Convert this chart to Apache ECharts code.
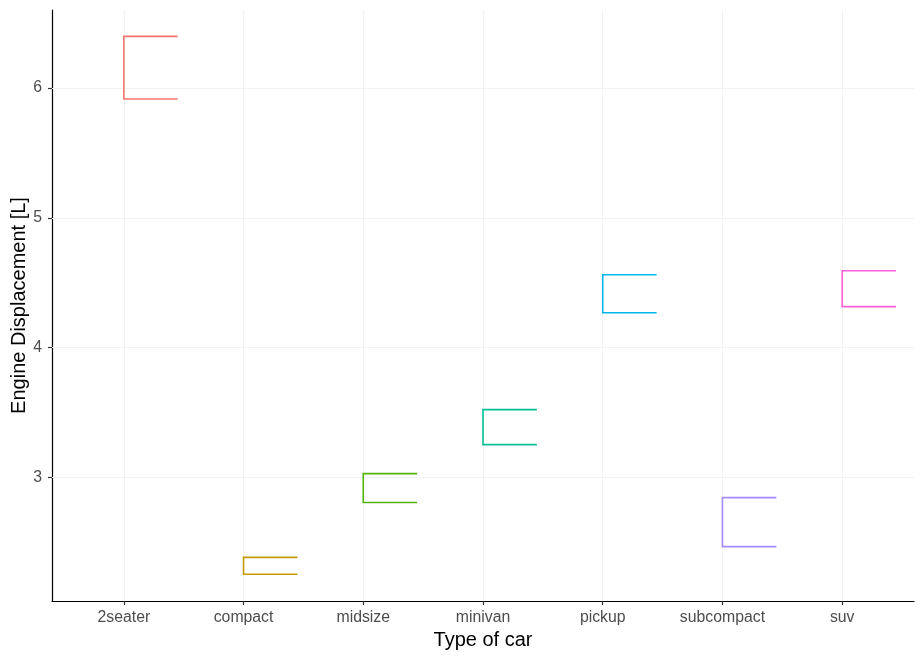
<!DOCTYPE html>
<html><head><meta charset="utf-8">
<script src="https://cdn.jsdelivr.net/npm/echarts@6/dist/echarts.min.js"></script>
<style>html,body{margin:0;padding:0;background:#fff}#c{width:924px;height:660px}</style>
</head><body><div id="c"></div>
<script>
var categories = ['2seater','compact','midsize','minivan','pickup','subcompact','suv'];
var lowerValues = [5.915, 2.256, 2.808, 3.254, 4.269, 2.469, 4.316];
var upperValues = [6.397, 2.386, 3.031, 3.523, 4.562, 2.846, 4.592];
var colors = ['#F8766D','#C49A00','#53B400','#00C094','#00B6EB','#A58AFF','#FB61D7'];
var yTicks = [3, 4, 5, 6];

var pos = categories.map(function(c, i){ return i + 1; });
var data = categories.map(function(c, i){ return [i + 1, lowerValues[i], upperValues[i], i]; });
var gridColor = '#f2f2f2';

var chart = echarts.init(document.getElementById('c'), null, {renderer: 'canvas'});
chart.setOption({
  animation: false,
  textStyle: {fontFamily: 'Liberation Sans, Arial, sans-serif'},
  grid: {left: 52, right: 10, top: 10, bottom: 59, containLabel: false, outerBoundsMode: 'none'},
  xAxis: {
    type: 'value', min: 0.4, max: 7.6,
    name: 'Type of car', nameLocation: 'middle', nameGap: 29, nameMoveOverlap: false,
    nameTextStyle: {color: '#000', fontSize: 20},
    axisLine: {show: true, lineStyle: {color: '#000', width: 1.2}},
    axisTick: {show: true, customValues: pos, length: 4, lineStyle: {color: '#333', width: 1.2}},
    axisLabel: {customValues: pos, color: '#4d4d4d', fontSize: 15.8, margin: 9,
      formatter: function(v){ return categories[Math.round(v) - 1] || ''; }},
    splitLine: {show: false}
  },
  yAxis: {
    type: 'value', min: 2.05, max: 6.6,
    name: 'Engine Displacement [L]', nameLocation: 'middle', nameGap: 23, nameMoveOverlap: false,
    nameTextStyle: {color: '#000', fontSize: 20},
    axisLine: {show: true, lineStyle: {color: '#000', width: 1.2}},
    axisTick: {show: true, customValues: yTicks, length: 4, lineStyle: {color: '#333', width: 1.2}},
    axisLabel: {customValues: yTicks, color: '#4d4d4d', fontSize: 15.8, margin: 10},
    splitLine: {show: false}
  },
  series: [{
    type: 'custom',
    data: data,
    encode: {x: 0, y: [1, 2]},
    z: 3,
    renderItem: function(params, api){
      var x = api.value(0), lo = api.value(1), hi = api.value(2), ci = api.value(3);
      var p1 = api.coord([x + 0.45, hi]);
      var p2 = api.coord([x, hi]);
      var p3 = api.coord([x, lo]);
      var p4 = api.coord([x + 0.45, lo]);
      return {
        type: 'polyline',
        shape: {points: [p1, p2, p3, p4]},
        style: {stroke: colors[ci], lineWidth: 1.6, fill: null, lineJoin: 'miter'}
      };
    },
    markLine: {
      silent: true, symbol: ['none','none'], label: {show: false}, z: 1,
      lineStyle: {color: gridColor, width: 1, type: 'solid'},
      data: pos.map(function(p){ return {xAxis: p}; }).concat(yTicks.map(function(t){ return {yAxis: t}; }))
    }
  }]
});
</script></body></html>
